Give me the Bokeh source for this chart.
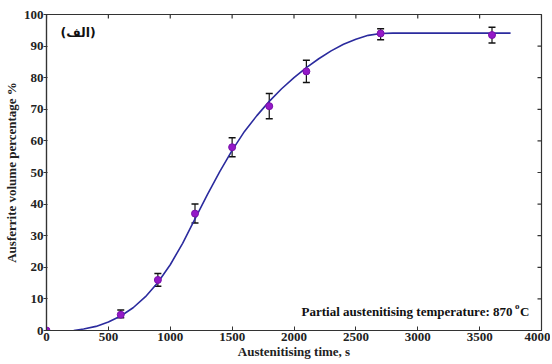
import math
from bokeh.plotting import figure
from bokeh.models import Range1d, Whisker, ColumnDataSource, Label, TeeHead, FixedTicker
from bokeh.embed import file_html
from bokeh.resources import INLINE

# ---- data ----
time_s = [0, 600, 900, 1200, 1500, 1800, 2100, 2700, 3600]
ausferrite_pct = [0, 5, 16, 37, 58, 71, 82, 94, 93.5]
err_time = [600, 900, 1200, 1500, 1800, 2100, 2700, 3600]
err_lower = [4, 14, 34, 55, 67, 78.5, 92, 91]
err_upper = [6.5, 18, 40, 61, 75, 85.5, 95.5, 96]

fit_time = [220, 300, 400, 500, 600, 700, 800, 900, 1000, 1100, 1200, 1300, 1400,
            1500, 1600, 1700, 1800, 1900, 2000, 2100, 2200, 2300, 2400, 2500,
            2600, 2700, 2800, 3000, 3750]
fit_pct = [0, 0.5, 1.3, 2.7, 4.6, 7.2, 10.7, 15.2, 20.8, 27.6, 35.3, 43.0, 50.3,
           57.0, 63.0, 68.0, 72.5, 76.5, 80.0, 83.2, 86.0, 88.5, 90.6, 92.2,
           93.4, 94.0, 94.1, 94.1, 94.1]

x_ticks = [0, 500, 1000, 1500, 2000, 2500, 3000, 3500, 4000]
y_ticks = [0, 10, 20, 30, 40, 50, 60, 70, 80, 90, 100]
x_max = 4000
y_max = 100

FONT = "Liberation Serif"
AX = "#333333"

p = figure(width=550, height=362, output_backend="svg", toolbar_location=None,
           x_range=Range1d(0, x_max), y_range=Range1d(0, y_max),
           min_border_left=46, min_border_right=9, min_border_top=14, min_border_bottom=32)
p.grid.visible = False
p.outline_line_color = AX
p.outline_line_width = 1.2
p.background_fill_color = "white"
p.border_fill_color = "white"

for ax in (p.xaxis[0], p.yaxis[0]):
    ax.axis_line_color = AX
    ax.axis_line_width = 1.2
    ax.major_tick_line_color = AX
    ax.minor_tick_line_color = None
    ax.major_label_text_font = FONT
    ax.major_label_text_font_style = "bold"
    ax.major_label_text_font_size = "13px"
    ax.major_label_text_color = "#222222"
    ax.axis_label_text_font = FONT
    ax.axis_label_text_font_style = "bold"
    ax.axis_label_text_font_size = "13px"
    ax.axis_label_text_color = "#222222"

xa = p.xaxis[0]
xa.ticker = FixedTicker(ticks=x_ticks)
xa.major_tick_in = 4
xa.major_tick_out = 0
xa.major_label_standoff = 2
xa.axis_label = "Austenitising time, s"
xa.axis_label_standoff = 0

ya = p.yaxis[0]
ya.ticker = FixedTicker(ticks=y_ticks)
ya.major_tick_in = 1
ya.major_tick_out = 3
ya.major_label_standoff = 0
ya.axis_label = "Ausferrite volume percentage %"
ya.axis_label_standoff = 2

# mirrored inward ticks on top and right edges (half of each dash is clipped by the frame)
p.scatter(x_ticks, [y_max] * len(x_ticks), marker="dash", size=8, angle=math.pi / 2,
          line_color=AX, line_width=1.2)
p.scatter([x_max] * len(y_ticks), y_ticks, marker="dash", size=8,
          line_color=AX, line_width=1.2)

# fitted curve
p.line(fit_time, fit_pct, line_color="#2B2B9E", line_width=1.6)

# error bars
esrc = ColumnDataSource(dict(x=err_time, lo=err_lower, hi=err_upper))
w = Whisker(source=esrc, base="x", lower="lo", upper="hi",
            line_color="#111111", line_width=1.2,
            upper_head=TeeHead(size=7, line_color="#111111", line_width=1.5),
            lower_head=TeeHead(size=7, line_color="#111111", line_width=1.5))
p.add_layout(w)

# data points
p.scatter(time_s, ausferrite_pct, size=7, fill_color="#9419C8", line_color="#7A12AA")

# annotations
p.add_layout(Label(x=113, y=94.3, text="(الف)", text_font="DejaVu Sans",
                   text_font_style="bold", text_font_size="12.5px",
                   text_baseline="middle", text_color="#111111"))
p.add_layout(Label(x=3903, y=6.1, text="C", text_font=FONT, text_font_style="bold",
                   text_font_size="13px", text_align="right",
                   text_baseline="middle", text_color="#111111"))
p.add_layout(Label(x=3903, y=6.1, x_offset=-10, y_offset=5, text="o", text_font=FONT,
                   text_font_style="bold", text_font_size="9px", text_align="right",
                   text_baseline="middle", text_color="#111111"))
p.add_layout(Label(x=3903, y=6.1, x_offset=-17, text="Partial austenitising temperature: 870",
                   text_font=FONT, text_font_style="bold", text_font_size="13px",
                   text_align="right", text_baseline="middle", text_color="#111111"))

open("out.html", "w").write(file_html(p, INLINE))
